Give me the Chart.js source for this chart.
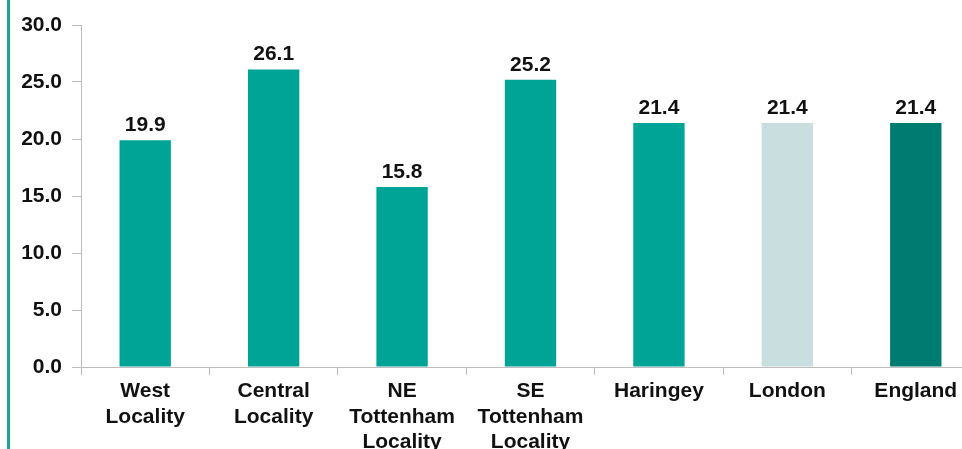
<!DOCTYPE html>
<html>
<head>
<meta charset="utf-8">
<script src="https://cdn.jsdelivr.net/npm/chart.js@4"></script>
<style>
	html, body { margin: 0; padding: 0; background: #fff; overflow: hidden; }
	#wrap { position: absolute; left: 0; top: 0; width: 980px; height: 449px; }
	#edge { position: absolute; left: 7px; top: 0; width: 3px; height: 449px; background: #1ea596; }
</style>
</head>
<body>
<div id="edge"></div>
<div id="wrap"><canvas id="locality-chart"></canvas></div>
<script>
const areas = [['West', 'Locality'], ['Central', 'Locality'], ['NE', 'Tottenham', 'Locality'], ['SE', 'Tottenham', 'Locality'], 'Haringey', 'London', 'England']
const rates = [19.9, 26.1, 15.8, 25.2, 21.4, 21.4, 21.4]
const barColours = ['#00a497', '#00a497', '#00a497', '#00a497', '#00a497', '#c9dedf', '#007b71']

const font = { family: 'Liberation Sans, Arial, sans-serif', size: 21, weight: 'bold', lineHeight: 1.2 }

// value printed above each bar
const valueLabels = {
	id: 'valueLabels',
	afterDatasetsDraw(chart) {
		const ctx = chart.ctx
		ctx.save()
		ctx.font = 'bold 21px Liberation Sans, Arial, sans-serif'
		ctx.fillStyle = '#111'
		ctx.textAlign = 'center'
		ctx.textBaseline = 'alphabetic'
		chart.getDatasetMeta(0).data.forEach((bar, i) => {
			ctx.fillText(rates[i].toFixed(1), bar.x, bar.y - 9)
		})
		ctx.restore()
	}
}

document.addEventListener('DOMContentLoaded', () => {
	const ctx = document.getElementById('locality-chart')
	new Chart(ctx, {
		type: 'bar',
		data: {
			labels: areas,
			datasets: [{
				data: rates,
				backgroundColor: barColours,
				barPercentage: 0.4,
				categoryPercentage: 1
			}]
		},
		options: {
			responsive: true,
			maintainAspectRatio: false,
			animation: false,
			layout: { padding: { top: 25, left: 0, right: 0, bottom: 0 } },
			plugins: { legend: { display: false }, tooltip: { enabled: false } },
			scales: {
				y: {
					min: 0,
					max: 30,
					ticks: {
						stepSize: 5,
						color: '#111',
						font: font,
						padding: 10,
						callback: v => v.toFixed(1)
					},
					grid: { drawOnChartArea: false, tickLength: 9, color: '#bdbdbd' },
					border: { color: '#bdbdbd' },
					afterFit: scale => { scale.width = 81 }
				},
				x: {
					ticks: { color: '#111', font: font, padding: 4, maxRotation: 0, autoSkip: false },
					grid: { drawOnChartArea: false, tickLength: 8, color: '#bdbdbd', offset: true },
					border: { color: '#bdbdbd' },
					afterFit: scale => { scale.height = 82 }
				}
			}
		},
		plugins: [valueLabels]
	})
})
</script>
</body>
</html>
